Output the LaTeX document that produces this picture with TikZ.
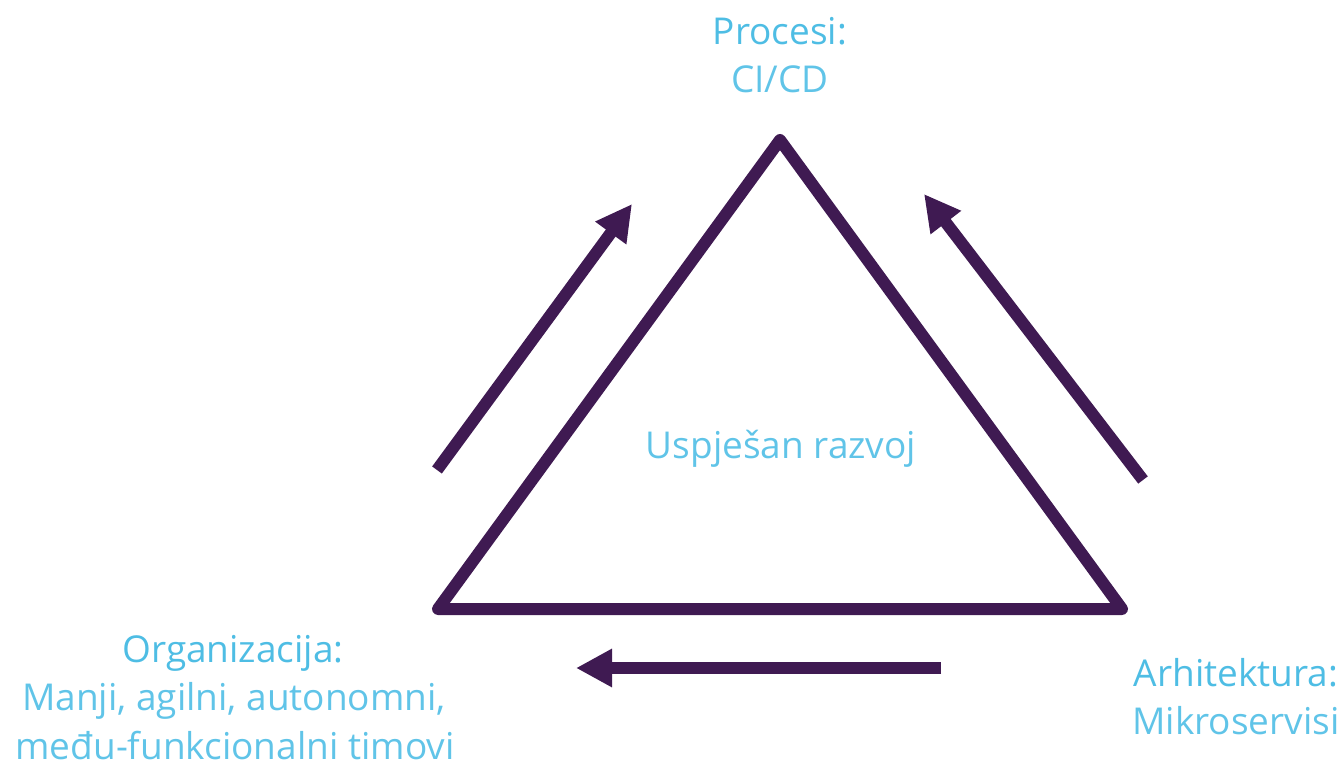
\documentclass[tikz,border=0pt]{standalone}
\usepackage{fontspec}
\setmainfont{Open Sans}
\usetikzlibrary{arrows.meta}
\definecolor{tri}{RGB}{63,26,82}
\definecolor{lbl}{RGB}{78,189,228}
\definecolor{lbllight}{RGB}{96,196,232}
\tikzset{
  triline/.style={draw=tri, line width=12pt, line join=round, line cap=round},
  flowarrow/.style={draw=tri, line width=12pt, -{Triangle[length=36pt,width=36pt]}},
  head/.style={text=lbl, font=\fontsize{37}{44}\selectfont, anchor=center, inner sep=0pt},
  sub/.style={text=lbllight, font=\fontsize{37}{44}\selectfont, anchor=center, inner sep=0pt, align=center},
}
\begin{document}
\begin{tikzpicture}[x=1pt,y=-1pt]
\useasboundingbox (0,0) rectangle (1342,770);
% triangle
\coordinate (T) at (780,140);
\coordinate (L) at (438,609);
\coordinate (R) at (1122,609);
\draw[triline] (T) -- (R) -- (L) -- cycle;
% arrows
\coordinate (a1s) at (437,470);
\coordinate (a1e) at (632,204);
\coordinate (a2s) at (1143,480);
\coordinate (a2e) at (924,194);
\coordinate (a3s) at (941,668);
\coordinate (a3e) at (576,668);
\draw[flowarrow] (a1s) -- (a1e);
\draw[flowarrow] (a2s) -- (a2e);
\draw[flowarrow] (a3s) -- (a3e);
% labels
\node[head] (proc) at (780,31) {Procesi:};
\node[sub] (procs) at (780,79) {CI/CD};
\node[sub] (center) at (781,449) {Uspješan razvoj};
\node[head] (org) at (233,653) {Organizacija:};
\node[sub] (orgs1) at (234,701) {Manji, agilni, autonomni,};
\node[sub] (orgs2) at (235,746) {među-funkcionalni timovi};
\node[head] (arh) at (1236,673) {Arhitektura:};
\node[sub] (arhs) at (1236,721) {Mikroservisi};
\end{tikzpicture}
\end{document}
